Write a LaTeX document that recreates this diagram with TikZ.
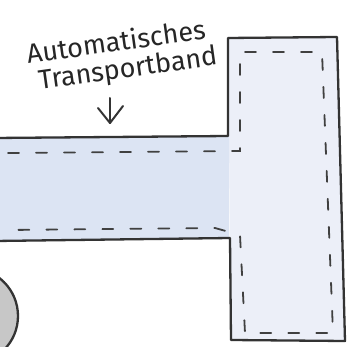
\documentclass[tikz,border=0pt]{standalone}
\usepackage{fontspec}
\setmainfont{Fira Sans}
\begin{document}
\begin{tikzpicture}[x=1pt,y=-1pt,
  outline/.style={draw=black!80,line width=2.3pt,line join=round},
  inner dash/.style={draw=black!75,line width=1.8pt,dash pattern=on 11pt off 17pt,line cap=round},
  label/.style={font=\fontsize{27}{27}\selectfont,text=black!85,rotate=8,inner sep=0pt}]
\definecolor{beltblue}{HTML}{DCE4F3}
\definecolor{bodyblue}{HTML}{ECEFF8}
\useasboundingbox (0,0) rectangle (359,347);
\fill[white] (0,0) rectangle (359,347);
% T-shaped belt
\fill[bodyblue] (228,37) -- (337,37) -- (345,341) -- (231,340) -- cycle;
\fill[beltblue] (-5,137) -- (229,136) -- (229,239) -- (-5,241) -- cycle;
\draw[outline] (-5,138) -- (228,136) -- (228,38) -- (337,37) -- (345,341) -- (231,340) -- (230,238) -- (-5,241);
% inner dashed line
\draw[inner dash] (8,153) -- (240,151) -- (240,52) -- (322,52) -- (333,333) -- (245,333) -- (240,235) -- (215,228) -- (8,230);
% circle at bottom left
\fill[black!22] (-30,316) circle (48);
\draw[outline] (-30,316) circle (48);
% label and arrow
\node[label] (l1) at (116,41) {Automatisches};
\node[label] (l2) at (128,70) {Transportband};
\coordinate (atop) at (110,98);
\coordinate (atip) at (110,123);
\draw[black!80,line width=2pt,line cap=round,line join=round] (atop) -- (atip);
\draw[black!80,line width=2pt,line cap=round,line join=round] (98,108) -- (atip) -- (123,106);
\end{tikzpicture}
\end{document}
